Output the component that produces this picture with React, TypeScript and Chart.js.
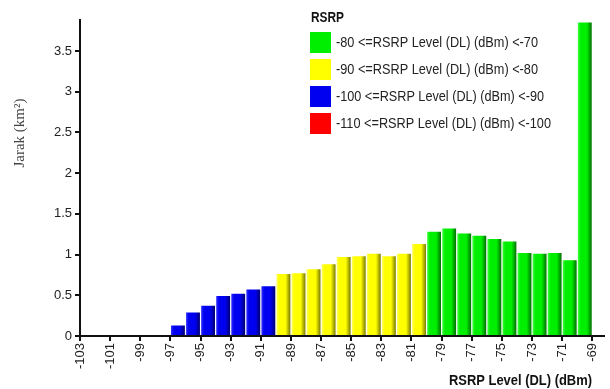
import React, { useEffect, useRef } from "react";
import { Chart, registerables } from "chart.js";

Chart.register(...registerables);

// ---- data ----
const greenLevels = [-80, -79, -78, -77, -76, -75, -74, -73, -72, -71, -70];
const greenValues = [1.28, 1.32, 1.26, 1.23, 1.19, 1.16, 1.02, 1.01, 1.02, 0.93, 3.85];
const yellowLevels = [-90, -89, -88, -87, -86, -85, -84, -83, -82, -81];
const yellowValues = [0.76, 0.77, 0.82, 0.88, 0.97, 0.98, 1.01, 0.98, 1.01, 1.13];
const blueLevels = [-97, -96, -95, -94, -93, -92, -91];
const blueValues = [0.13, 0.29, 0.37, 0.49, 0.52, 0.57, 0.61];
const redLevels: number[] = [];
const redValues: number[] = [];

const seriesLabels = [
  "-80 <=RSRP Level (DL) (dBm) <-70",
  "-90 <=RSRP Level (DL) (dBm) <-80",
  "-100 <=RSRP Level (DL) (dBm) <-90",
  "-110 <=RSRP Level (DL) (dBm) <-100",
];
const xTickValues = [-103, -101, -99, -97, -95, -93, -91, -89, -87, -85, -83, -81, -79, -77, -75, -73, -71, -69];
const yTickValues = [0, 0.5, 1, 1.5, 2, 2.5, 3, 3.5];
const legendTitle = "RSRP";
const xTitle = "RSRP Level (DL) (dBm)";
const yTitle = "Jarak (km²)";

// ---- styles ----
const baseColors = ["#00ee00", "#ffff00", "#0000f0", "#ff0000"];
const lightColors = ["#40ff40", "#ffff60", "#3030ff", "#ff4040"];
const darkColors = ["#007000", "#7a7a00", "#000070", "#800000"];
const BAR_PCT = 0.92;

function toPoints(levels: number[], values: number[]) {
  return levels.map((lv, i) => ({ x: lv + 0.5, y: values[i] }));
}

function barFill(idx: number) {
  return (c: any) => {
    const chart = c.chart;
    const xs = chart.scales && chart.scales.x;
    if (c.type !== "data" || !xs || !c.raw || !isFinite(xs.getPixelForValue(c.raw.x))) return baseColors[idx];
    const cx = xs.getPixelForValue(c.raw.x);
    const w = ((xs.getPixelForValue(c.raw.x + 0.5) - xs.getPixelForValue(c.raw.x - 0.5)) * BAR_PCT) / 2;
    const g = chart.ctx.createLinearGradient(cx - w, 0, cx + w, 0);
    g.addColorStop(0, lightColors[idx]);
    g.addColorStop(0.2, baseColors[idx]);
    g.addColorStop(0.65, baseColors[idx]);
    g.addColorStop(1, darkColors[idx]);
    return g;
  };
}

const overlayPlugin = {
  id: "overlay",
  afterDraw(chart: any) {
    const ctx = chart.ctx;
    ctx.save();
    // legend
    ctx.fillStyle = "#111";
    ctx.textBaseline = "middle";
    ctx.textAlign = "left";
    ctx.font = "bold 14px 'Liberation Sans', Arial, sans-serif";
    ctx.fillText(legendTitle, 311, 18, 33);
    ctx.font = "15px 'Liberation Sans', Arial, sans-serif";
    chart.data.datasets.forEach((ds: any, i: number) => {
      const y = 32 + i * 27;
      ctx.fillStyle = baseColors[i];
      ctx.fillRect(310, y, 21, 21);
      ctx.fillStyle = "#222";
      const maxW = i < 2 ? 202 : i === 2 ? 208 : 215;
      ctx.fillText(ds.label, 336, y + 11, maxW);
    });
    // x title
    ctx.font = "bold 14px 'Liberation Sans', Arial, sans-serif";
    ctx.fillStyle = "#111";
    ctx.textAlign = "right";
    ctx.fillText(xTitle, 592, 381, 143);
    // y title
    ctx.translate(20, 133);
    ctx.rotate(-Math.PI / 2);
    ctx.textAlign = "center";
    ctx.fillStyle = "#444";
    ctx.font = "15px 'Liberation Serif', 'Times New Roman', serif";
    ctx.fillText(yTitle, 0, 0);
    ctx.restore();
  },
};

export default function App() {
  const ref = useRef<HTMLCanvasElement | null>(null);

  useEffect(() => {
    if (!ref.current) return;
    const levelSets = [greenLevels, yellowLevels, blueLevels, redLevels];
    const valueSets = [greenValues, yellowValues, blueValues, redValues];
    const chart = new Chart(ref.current, {
      type: "bar",
      data: {
        datasets: levelSets.map((lv, i) => ({
          label: seriesLabels[i],
          data: toPoints(lv, valueSets[i]),
          backgroundColor: barFill(i),
          borderWidth: 0,
          grouped: false,
          barPercentage: BAR_PCT,
          categoryPercentage: 1,
        })) as any,
      },
      options: {
        responsive: false,
        animation: false,
        layout: { padding: { top: 20, right: 4, left: 0, bottom: 0 } },
        plugins: {
          legend: { display: false },
          tooltip: { enabled: false },
          title: { display: false },
        },
        scales: {
          x: {
            type: "linear",
            offset: false,
            min: -103,
            max: -68.2,
            afterBuildTicks: (s: any) => {
              s.ticks = xTickValues.map((v) => ({ value: v }));
            },
            afterFit: (s: any) => {
              s.height = 53;
            },
            ticks: {
              minRotation: 90,
              maxRotation: 90,
              autoSkip: false,
              padding: 2,
              color: "#222",
              font: { family: "'Liberation Sans', Arial, sans-serif", size: 13 },
              callback: (v: any) => String(v),
            },
            grid: {
              display: true,
              offset: false,
              drawOnChartArea: false,
              drawTicks: true,
              tickLength: 5,
              color: "#111",
              lineWidth: 2,
            },
            border: { display: true, color: "#111", width: 2 },
          },
          y: {
            type: "linear",
            min: 0,
            max: 3.88,
            afterBuildTicks: (s: any) => {
              s.ticks = yTickValues.map((v) => ({ value: v }));
            },
            afterFit: (s: any) => {
              s.width = 80;
            },
            ticks: {
              padding: 3,
              color: "#222",
              font: { family: "'Liberation Sans', Arial, sans-serif", size: 13 },
              callback: (v: any) => String(v),
            },
            grid: {
              display: true,
              drawOnChartArea: false,
              drawTicks: true,
              tickLength: 5,
              color: "#111",
              lineWidth: 2,
            },
            border: { display: true, color: "#111", width: 2 },
          },
        },
      },
      plugins: [overlayPlugin],
    });
    return () => chart.destroy();
  }, []);

  return (
    <div style={{ position: "fixed", left: 0, top: 0, width: 610, height: 389, background: "#fff" }}>
      <canvas ref={ref} width={610} height={389} style={{ display: "block", width: 610, height: 389 }} />
    </div>
  );
}
